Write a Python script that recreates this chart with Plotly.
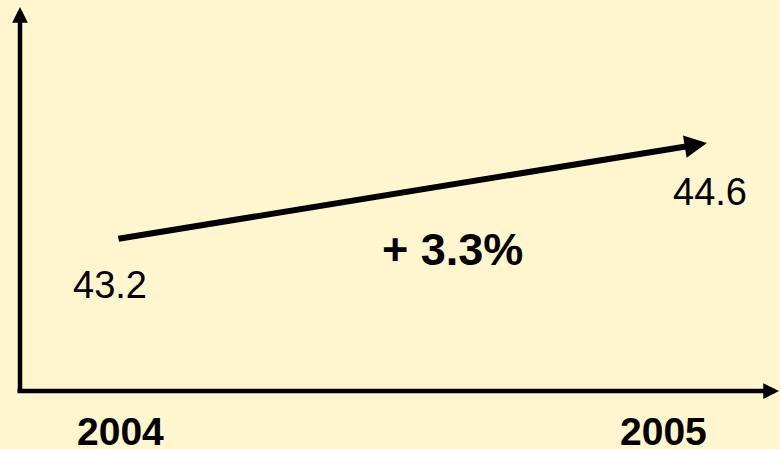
import plotly.graph_objects as go

# Values shown on the chart
years = [2004, 2005]
values = [43.2, 44.6]
value_labels = ["43.2", "44.6"]
year_labels = ["2004", "2005"]
change_label = "+ 3.3%"

W, H = 780, 449
BG = "#FFF6CF"
FONT = "Liberation Sans, Arial, sans-serif"

fig = go.Figure()

# invisible trace so the axes exist
fig.add_trace(go.Scatter(x=years, y=values, mode="markers",
                         marker=dict(opacity=0), hoverinfo="skip", showlegend=False))

annotations = []

# trend arrow from the 2004 value to the 2005 value
annotations.append(dict(
    x=years[1], y=values[1], xref="x", yref="y",
    ax=years[0], ay=values[0], axref="x", ayref="y",
    text="", showarrow=True, arrowhead=2, arrowsize=0.75,
    arrowwidth=6, arrowcolor="black", standoff=0, startstandoff=0,
))

# value labels under each end of the arrow
annotations.append(dict(x=years[0], y=values[0], xref="x", yref="y",
                        text=value_labels[0], showarrow=False,
                        xanchor="center", yanchor="middle",
                        xshift=-7, yshift=-46,
                        font=dict(family=FONT, size=38, color="black")))
annotations.append(dict(x=years[1], y=values[1], xref="x", yref="y",
                        text=value_labels[1], showarrow=False,
                        xanchor="center", yanchor="middle",
                        xshift=3, yshift=-49,
                        font=dict(family=FONT, size=38, color="black")))

# year labels along the bottom
annotations.append(dict(x=years[0], y=1 - 431 / H, xref="x", yref="paper",
                        text="<b>%s</b>" % year_labels[0], showarrow=False,
                        xanchor="center", yanchor="middle", xshift=3,
                        font=dict(family=FONT, size=39, color="black")))
annotations.append(dict(x=years[1], y=1 - 431 / H, xref="x", yref="paper",
                        text="<b>%s</b>" % year_labels[1], showarrow=False,
                        xanchor="center", yanchor="middle", xshift=-44,
                        font=dict(family=FONT, size=39, color="black")))

# growth label
annotations.append(dict(x=452 / W, y=1 - 249 / H, xref="paper", yref="paper",
                        text="<b>%s</b>" % change_label, showarrow=False,
                        xanchor="center", yanchor="middle",
                        font=dict(family=FONT, size=45, color="black")))

# vertical axis with arrowhead
annotations.append(dict(x=20 / W, y=1 - 7 / H, xref="paper", yref="paper",
                        ax=0, ay=386, axref="pixel", ayref="pixel",
                        text="", showarrow=True, arrowhead=2, arrowsize=0.7,
                        arrowwidth=4.5, arrowcolor="black", standoff=0))
# horizontal axis with arrowhead (tip runs past the right edge)
annotations.append(dict(x=788 / W, y=1 - 391 / H, xref="paper", yref="paper",
                        ax=-772, ay=0, axref="pixel", ayref="pixel",
                        text="", showarrow=True, arrowhead=2, arrowsize=0.7,
                        arrowwidth=4.5, arrowcolor="black", standoff=0))

# axis ranges place 2004/43.2 and 2005/44.6 at the arrow ends
px_per_year = 590.0
x0 = years[0] - 117 / px_per_year
x1 = years[1] + (W - 707) / px_per_year
px_per_unit = 96.0 / (values[1] - values[0])
y1 = values[1] + 143 / px_per_unit
y0 = values[0] - (H - 239) / px_per_unit

fig.update_layout(
    width=W, height=H,
    margin=dict(l=0, r=0, t=0, b=0),
    paper_bgcolor=BG, plot_bgcolor=BG,
    xaxis=dict(range=[x0, x1], visible=False, fixedrange=True),
    yaxis=dict(range=[y0, y1], visible=False, fixedrange=True),
    annotations=annotations,
    showlegend=False,
)

fig.write_html("out.html")
